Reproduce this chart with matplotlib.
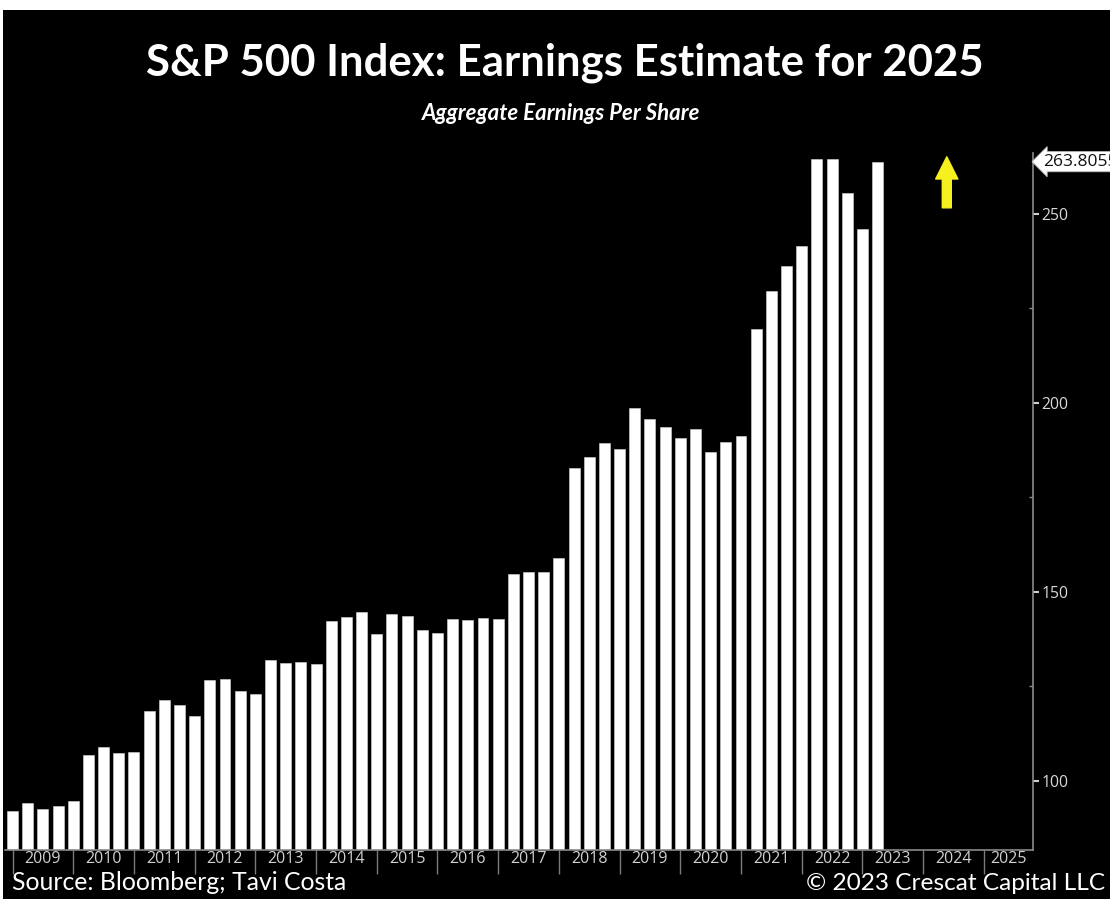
import numpy as np
import matplotlib
matplotlib.use("Agg")
import matplotlib.pyplot as plt
from matplotlib.patches import Rectangle
from matplotlib.ticker import FixedLocator, NullFormatter, FixedFormatter

# quarterly aggregate EPS, plotted at quarter-end dates (Q4 2008 .. Q1 2023)
quarter_start = 2009.0
eps = [
    92.1, 94.3, 92.6, 93.3, 94.8,
    106.9, 108.9, 107.3, 107.7,
    118.4, 121.4, 120.2, 117.3,
    126.8, 127.1, 123.9, 122.9,
    132.1, 131.2, 131.6, 131.0,
    142.2, 143.4, 144.8, 139.0,
    144.1, 143.7, 139.9, 139.2,
    142.9, 142.7, 143.1, 142.9,
    154.8, 155.3, 155.3, 158.9,
    182.7, 185.8, 189.3, 187.9,
    198.6, 195.8, 193.5, 190.7,
    193.2, 186.9, 189.7, 191.3,
    219.6, 229.6, 236.3, 241.6,
    264.6, 264.6, 255.6, 246.0,
    263.8055,
]
years = list(range(2009, 2026))
y_ticks = [100, 150, 200, 250]
y_minor = [125, 175, 225]
last_value = eps[-1]

title = "S&P 500 Index: Earnings Estimate for 2025"
subtitle = "Aggregate Earnings Per Share"
source = "Source: Bloomberg; Tavi Costa"
credit = "\u00a9 2023 Crescat Capital LLC"

W, H = 1110, 899
fig = plt.figure(figsize=(W / 100, H / 100), dpi=100)
fig.patch.set_facecolor("black")

# thin white frame on top and left
fig.add_artist(Rectangle((0, 1 - 10 / H), 1, 10 / H, transform=fig.transFigure,
                         facecolor="white", edgecolor="none", zorder=0))
fig.add_artist(Rectangle((0, 0), 3 / W, 1, transform=fig.transFigure,
                         facecolor="white", edgecolor="none", zorder=0))

ax = fig.add_axes([5 / W, 1 - 850 / H, (1033 - 5) / W, (850 - 153) / H])
ax.set_facecolor("black")

x = quarter_start + 0.25 * np.arange(len(eps))
ax.bar(x, eps, width=0.18, color="white", edgecolor="#d8d8d8", linewidth=0.4)

x_max = 2025.81
ax.set_xlim(2008.876, x_max)
ax.set_ylim(81.75, 266.1)

# axis styling
for side in ["top", "left"]:
    ax.spines[side].set_visible(False)
for side in ["right", "bottom"]:
    ax.spines[side].set_color("#8a8a8a")
    ax.spines[side].set_linewidth(1.2)

ax.yaxis.tick_right()
ax.yaxis.set_major_locator(FixedLocator(y_ticks))
ax.yaxis.set_minor_locator(FixedLocator(y_minor))
ax.tick_params(axis="y", which="major", direction="out", length=4, width=1.5,
               color="#cfcfcf", labelcolor="#d8d8d8", labelsize=11.3, pad=2)
ax.tick_params(axis="y", which="minor", direction="in", length=3, width=1,
               color="#8a8a8a")
for lbl in ax.get_yticklabels():
    lbl.set_family("Open Sans")

# year separators as major ticks, year names centred between them
label_pos = [y + 0.5 for y in years[:-1]] + [(years[-1] + x_max) / 2]
ax.xaxis.set_major_locator(FixedLocator(years))
ax.xaxis.set_major_formatter(NullFormatter())
ax.xaxis.set_minor_locator(FixedLocator(label_pos))
ax.xaxis.set_minor_formatter(FixedFormatter([str(y) for y in years]))
ax.tick_params(axis="x", which="major", direction="out", length=17, width=1,
               color="#7a7a7a")
ax.tick_params(axis="x", which="minor", length=0, labelcolor="#d0d0d0",
               labelsize=11.5, pad=1)
for lbl in ax.get_xticklabels(minor=True):
    lbl.set_family("Open Sans")

# last-value tag on the right axis
ax.annotate(f"{last_value:.4f}", xy=(1.0, last_value),
            xycoords=("axes fraction", "data"), xytext=(7, 0),
            textcoords="offset points", ha="left", va="center",
            fontsize=12.5, family="Open Sans", color="#111111",
            bbox=dict(boxstyle="larrow,pad=0.12", facecolor="white",
                      edgecolor="#bbbbbb", linewidth=0.6),
            annotation_clip=False)

# yellow up arrow in the forecast area
ax.annotate("", xy=(2024.39, 265.1), xytext=(2024.39, 251.6),
            arrowprops=dict(arrowstyle="simple,head_length=1.6,head_width=1.6,tail_width=0.65",
                            color="#f5f01e", shrinkA=0, shrinkB=0, mutation_scale=10))

fig.text(565 / W, 1 - 63 / H, title, ha="center", va="center", color="white",
         fontsize=31.5, fontweight="bold", family="Lato")
fig.text(561 / W, 1 - 113 / H, subtitle, ha="center", va="center", color="white",
         fontsize=16, fontweight="bold", style="italic", family="Lato")
fig.text(12 / W, 1 - 883 / H, source, ha="left", va="center", color="white",
         fontsize=17.8, family="Lato")
fig.text(1105 / W, 1 - 883 / H, credit, ha="right", va="center", color="white",
         fontsize=17.6, family="Lato")

fig.savefig("out.png", dpi=100, facecolor=fig.get_facecolor())
